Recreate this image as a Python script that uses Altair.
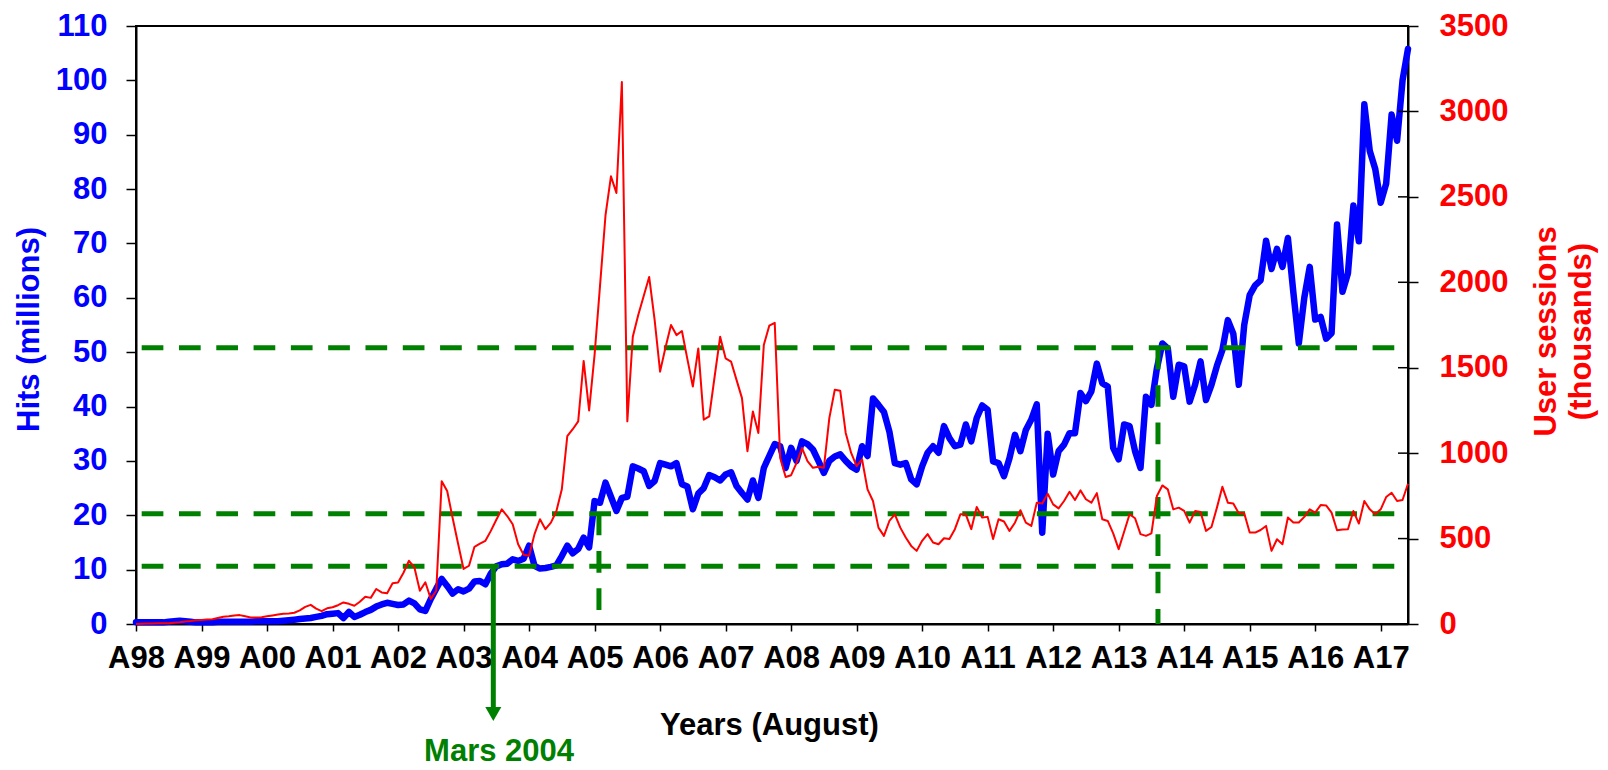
import altair as alt
import pandas as pd

# ---------------- data ----------------
year_labels = ["A98", "A99", "A00", "A01", "A02", "A03", "A04", "A05", "A06", "A07",
               "A08", "A09", "A10", "A11", "A12", "A13", "A14", "A15", "A16", "A17"]
tick_months = [12 * i for i in range(len(year_labels))]

# Hits (millions), monthly from August 1998
hits = [
    0.3, 0.3, 0.3, 0.3, 0.3, 0.3, 0.4, 0.5, 0.6, 0.5,
    0.4, 0.3, 0.3, 0.3, 0.3, 0.4, 0.4, 0.4, 0.4, 0.4,
    0.4, 0.4, 0.5, 0.5, 0.5, 0.5, 0.5, 0.6, 0.7, 0.8,
    0.9, 1.0, 1.1, 1.3, 1.5, 1.8, 1.9, 2.0, 1.1, 2.2,
    1.3, 1.7, 2.2, 2.6, 3.2, 3.6, 3.9, 3.7, 3.5, 3.6,
    4.3, 3.8, 2.7, 2.4, 4.6, 6.5, 8.3, 7.0, 5.6, 6.4,
    6.0, 6.5, 7.8, 7.9, 7.3, 9.3, 10.6, 11.0, 11.1, 11.9,
    11.6, 12.0, 14.4, 10.7, 10.2, 10.3, 10.5, 10.8, 12.5, 14.4,
    13.0, 13.8, 15.9, 14.1, 22.6, 22.3, 26.0, 23.4, 20.8, 23.2,
    23.4, 29.0, 28.6, 28.1, 25.4, 26.3, 29.6, 29.3, 29.0, 29.6,
    25.7, 25.3, 21.1, 24.0, 25.0, 27.4, 27.0, 26.4, 27.5, 27.9,
    25.4, 24.1, 22.9, 26.4, 23.2, 28.7, 30.9, 33.1, 32.7, 28.7,
    32.4, 30.0, 33.6, 33.1, 32.1, 30.0, 27.8, 30.0, 30.8, 31.2,
    30.0, 29.0, 28.4, 32.7, 30.9, 41.5, 40.3, 39.0, 35.4, 29.6,
    29.3, 29.6, 26.6, 25.7, 29.0, 31.5, 32.7, 31.5, 36.4, 34.2,
    32.7, 33.0, 36.7, 33.6, 37.9, 40.2, 39.4, 29.9, 29.6, 27.2,
    30.5, 34.8, 31.8, 35.7, 37.6, 40.4, 16.8, 35.0, 27.5, 31.8,
    33.0, 35.1, 35.1, 42.5, 41.0, 42.8, 47.9, 44.3, 43.7, 32.4,
    30.3, 36.7, 36.4, 31.8, 28.7, 41.8, 40.3, 47.0, 51.6, 50.7,
    41.8, 47.7, 47.4, 40.9, 44.0, 48.3, 41.2, 44.0, 47.5, 50.4,
    55.9, 53.4, 44.0, 55.0, 60.5, 62.3, 63.2, 70.5, 65.3, 69.0,
    65.7, 71.0, 61.0, 51.6, 60.0, 65.7, 56.0, 56.5, 52.5, 53.5,
    73.5, 61.1, 64.5, 77.0, 70.4, 95.6, 87.0, 83.7, 77.5, 81.0,
    93.7, 88.9, 100.0, 105.8,
]

# User sessions (thousands), monthly from August 1998
sessions = [
    0, 2, 3, 3, 4, 5, 5, 8, 10, 15,
    18, 22, 24, 26, 28, 35, 42, 45, 50, 52,
    45, 38, 38, 40, 45, 50, 55, 60, 62, 66,
    80, 100, 112, 90, 75, 92, 98, 110, 126, 118,
    107, 130, 160, 153, 205, 185, 180, 238, 243, 300,
    370, 331, 195, 244, 147, 195, 836, 778, 620, 470,
    322, 341, 452, 470, 487, 545, 610, 671, 632, 584,
    467, 405, 400, 526, 613, 555, 593, 660, 788, 1099,
    1140, 1186, 1540, 1250, 1575, 1980, 2391, 2620, 2523, 3172,
    1186, 1681, 1808, 1920, 2031, 1780, 1477, 1620, 1750, 1691,
    1715, 1550, 1390, 1613, 1196, 1215, 1450, 1681, 1555, 1536,
    1429, 1322, 1011, 1244, 1118, 1633, 1746, 1763, 972, 860,
    871, 943, 1030, 953, 914, 920, 914, 1205, 1371, 1365,
    1118, 1001, 924, 963, 788, 720, 564, 516, 603, 642,
    564, 506, 457, 428, 487, 526, 477, 467, 502, 497,
    555, 642, 642, 555, 685, 623, 627, 497, 613, 600,
    545, 593, 666, 593, 574, 710, 705, 762, 700, 677,
    720, 774, 726, 782, 730, 710, 766, 613, 603, 530,
    438, 540, 642, 619, 526, 516, 530, 749, 811, 788,
    671, 681, 662, 593, 661, 655, 545, 568, 681, 803,
    710, 705, 648, 648, 535, 535, 550, 574, 428, 496,
    467, 623, 594, 594, 627, 671, 652, 696, 694, 652,
    549, 553, 555, 661, 588, 720, 671, 642, 671, 743,
    768, 720, 726, 821,
]

hits_ticks = list(range(0, 111, 10))
session_ticks = list(range(0, 3501, 500))

# green reference lines (hits levels) and markers
level_hits = [50.8, 20.3, 10.6]
level_start_month = 1.04
level_end_month = 233
vline_months = [84.8, 187.2]
vline_levels = [20.3, 50.8]
arrow_month = [65.45]
arrow_level = [10.6]
annotation_text = ["Mars 2004"]
annotation_month = [66.5]

# ---------------- tables ----------------
months = list(range(len(hits)))
df = pd.DataFrame({"m": months, "hits": hits, "sessions": sessions})
hlines = pd.DataFrame({"m": [level_start_month] * len(level_hits),
                       "m2": [level_end_month] * len(level_hits),
                       "hits": level_hits})
vlines = pd.DataFrame({"m": vline_months, "hits": vline_levels,
                       "hits2": [0] * len(vline_months)})
arrow = pd.DataFrame({"m": arrow_month, "hits": arrow_level})
annot = pd.DataFrame({"m": annotation_month, "label": annotation_text})
sess_ticks_df = pd.DataFrame({"sessions": session_ticks})

# label expression built from the year labels (nested conditionals)
label_expr = "''"
for v, lab in reversed(list(zip(tick_months, year_labels))):
    label_expr = f"datum.value == {v} ? '{lab}' : ({label_expr})"

FONT = "Liberation Sans"
BLUE = "#0000FF"
RED = "#FF0000"
GREEN = "#008000"
W, H = 1272, 598
FS = 31

x_scale = alt.Scale(domain=[0, len(hits) - 1], nice=False, zero=False)
hits_scale = alt.Scale(domain=[0, 110], nice=False, zero=True)
sess_scale = alt.Scale(domain=[0, 3500], nice=False, zero=True)

x_axis = alt.Axis(
    values=tick_months,
    labelExpr=label_expr,
    labelFont=FONT, labelFontSize=FS, labelFontWeight="bold", labelColor="black",
    labelPadding=12, labelOverlap=False, labelFlush=False,
    tickSize=7, tickColor="black", tickWidth=1.5,
    domainColor="black", domainWidth=2, grid=False,
    title="Years (August)", titleFont=FONT, titleFontSize=FS, titleFontWeight="bold",
    titleColor="black", titleX=633, titleY=101, titleAlign="center",
    titleBaseline="middle", titleAngle=0,
)

left_axis = alt.Axis(
    values=hits_ticks, orient="left", format="d",
    labelFont=FONT, labelFontSize=FS, labelFontWeight="bold", labelColor=BLUE,
    labelPadding=19, labelOverlap=False,
    tickSize=10, tickColor="black", tickWidth=1.5,
    domainColor="black", domainWidth=2, grid=False,
    title="Hits (millions)", titleFont=FONT, titleFontSize=FS, titleFontWeight="bold",
    titleColor=BLUE, titleAngle=270, titleX=-98, titleY=303, titleAlign="center",
    titleBaseline="alphabetic",
)

right_axis = alt.Axis(
    values=session_ticks, orient="right", format="d",
    labelFont=FONT, labelFontSize=FS, labelFontWeight="bold", labelColor=RED,
    labelPadding=21, labelOverlap=False,
    tickSize=10, tickColor="black", tickWidth=1.5,
    domainColor="black", domainWidth=2, grid=False,
    title=["User sessions", "(thousands)"], titleFont=FONT, titleFontSize=FS,
    titleFontWeight="bold", titleColor=RED, titleAngle=270, titleX=147, titleY=305,
    titleAlign="center", titleBaseline="alphabetic", titleLineHeight=35,
)

# every layer uses the same axis definition so that shared axes merge cleanly
X = alt.X("m:Q", scale=x_scale, axis=x_axis)
Y_HITS = alt.Y("hits:Q", scale=hits_scale, axis=left_axis)
Y_SESS = alt.Y("sessions:Q", scale=sess_scale, axis=right_axis)

blue_line = alt.Chart(df).mark_line(
    color=BLUE, strokeWidth=6.5, strokeJoin="round", strokeCap="round"
).encode(x=X, y=Y_HITS)

red_line = alt.Chart(df).mark_line(
    color=RED, strokeWidth=2, strokeJoin="round"
).encode(x=X, y=Y_SESS)

inner_ticks = alt.Chart(sess_ticks_df).mark_rule(color="black", strokeWidth=1.5).encode(
    x=alt.value(W - 10), x2=alt.value(W), y=Y_SESS,
)

dash = [21.7, 15.6]
h_rules = alt.Chart(hlines).mark_rule(color=GREEN, strokeWidth=5, strokeDash=dash).encode(
    x=X, x2="m2:Q", y=Y_HITS,
)
v_rules = alt.Chart(vlines).mark_rule(color=GREEN, strokeWidth=5, strokeDash=dash).encode(
    x=X, y=Y_HITS, y2="hits2:Q",
)
arrow_shaft = alt.Chart(arrow).mark_rule(color=GREEN, strokeWidth=5).encode(
    x=X, y=Y_HITS, y2=alt.value(H + 87),
)
arrow_head = alt.Chart(arrow).mark_point(
    shape="triangle-down", filled=True, size=256, color=GREEN, opacity=1
).encode(x=X, y=alt.value(H + 90))
annot_text = alt.Chart(annot).mark_text(
    font=FONT, fontSize=FS, fontWeight="bold", color=GREEN,
    align="center", baseline="middle"
).encode(x=X, y=alt.value(H + 128), text="label:N")

left_layer = alt.layer(blue_line, h_rules, v_rules, arrow_shaft, arrow_head, annot_text)
right_layer = alt.layer(red_line, inner_ticks)

chart = alt.layer(left_layer, right_layer).resolve_scale(
    y="independent"
).properties(
    width=W, height=H,
    padding={"left": 128, "top": 18, "right": 192, "bottom": 146},
    autosize=alt.AutoSizeParams(type="none"),
    background="white",
).configure_view(
    stroke="black", strokeWidth=2
)

chart.save("out.html", embed_options={"renderer": "svg", "actions": False})
